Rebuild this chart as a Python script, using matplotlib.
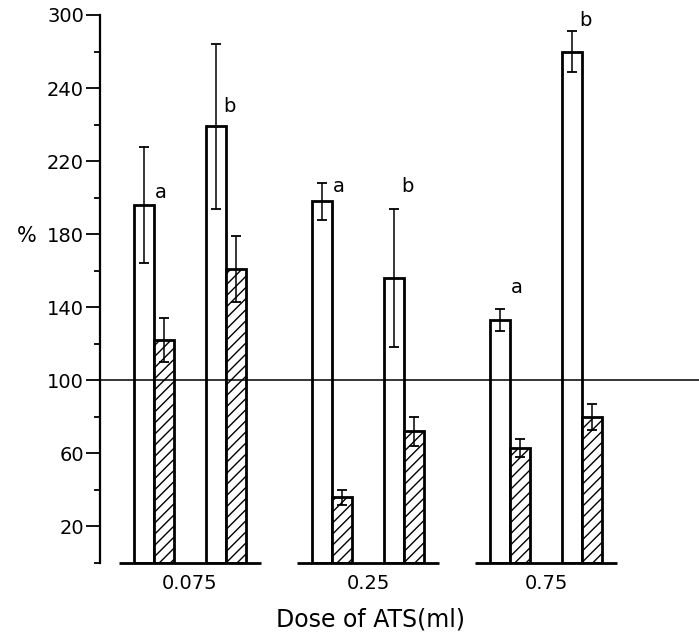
import matplotlib
matplotlib.use("Agg")
import matplotlib.pyplot as plt
import numpy as np

plt.rcParams['font.family'] = ['DejaVu Sans']
plt.rcParams['hatch.linewidth'] = 1.0

# ---- data ----
doses = ["0.075", "0.25", "0.75"]
# open bars (a and b conditions) and hatched bars, per dose
open_a = [196, 198, 133]
open_a_err = [32, 10, 6]
hatch_a = [122, 36, 63]
hatch_a_err = [12, 4, 5]
open_b = [239, 156, 280]
open_b_err = [45, 38, 11]
hatch_b = [161, 72, 80]
hatch_b_err = [18, 8, 7]
sig_letters_a = ["a", "a", "a"]
sig_letters_b = ["b", "b", "b"]
ytick_values = [20, 60, 100, 140, 180, 220, 260, 300]
ytick_labels = ["20", "60", "100", "140", "180", "220", "240", "300"]
minor_values = [0, 40, 80, 120, 160, 200, 240, 280]
reference_level = 100

fig = plt.figure(figsize=(6.99, 6.35), dpi=100)
ax = fig.add_axes([100 / 699, 72 / 635, 599 / 699, 548 / 635])

g = np.arange(len(doses))
pair_off = 0.2
w = 0.112

def draw_pair(center, ov, oe, hv, he):
    xo = center - w / 2
    xh = center + w / 2
    ax.bar(xo, ov, width=w, facecolor='white', edgecolor='black', linewidth=2.0, zorder=3)
    ax.bar(xh, hv, width=w, facecolor='white', edgecolor='black', linewidth=2.0,
           hatch='///', zorder=3)
    ax.errorbar(xo, ov, yerr=oe, fmt='none', ecolor='black', elinewidth=1.1,
                capsize=3.5, capthick=1.3, zorder=4)
    ax.errorbar(xh, hv, yerr=he, fmt='none', ecolor='black', elinewidth=1.1,
                capsize=3.5, capthick=1.3, zorder=4)
    return xo

xa = draw_pair(g - pair_off, open_a, open_a_err, hatch_a, hatch_a_err)
xb = draw_pair(g + pair_off, open_b, open_b_err, hatch_b, hatch_b_err)

# significance letters
label_offsets_a = [7, 8, 18]     # above bar top
label_offsets_b = [11, 50, 17]
for i in range(len(doses)):
    ax.text(xa[i] + 0.09, open_a[i] + label_offsets_a[i], sig_letters_a[i],
            fontsize=14, ha='center', va='center')
    ax.text(xb[i] + 0.075, open_b[i] + label_offsets_b[i], sig_letters_b[i],
            fontsize=14, ha='center', va='center')

# reference line (drawn across the bars)
ax.axhline(reference_level, color='black', linewidth=1.1, zorder=4.5, clip_on=False)

# baseline segments per group
for gi in g:
    ax.plot([gi - 0.4, gi + 0.4], [0, 0], color='black', linewidth=2.0,
            clip_on=False, zorder=5, solid_capstyle='butt')

ax.set_xlim(-90 / 178, -90 / 178 + 599 / 178)
ax.set_ylim(0, 300)

for s in ['top', 'right', 'bottom']:
    ax.spines[s].set_visible(False)
ax.spines['left'].set_linewidth(1.6)

ax.set_yticks(ytick_values)
ax.set_yticklabels(ytick_labels, fontsize=14)
ax.set_yticks(minor_values, minor=True)
ax.tick_params(axis='y', which='major', length=10, width=1.3, pad=1.5)
ax.tick_params(axis='y', which='minor', length=4, width=1.3)

ax.set_xticks(g)
ax.set_xticklabels(doses, fontsize=14)
ax.tick_params(axis='x', length=0, pad=8)

ax.set_xlabel("Dose of ATS(ml)", fontsize=17)
ax.xaxis.set_label_coords((370 - 100) / 599, (563 - 607) / 548)
ax.set_ylabel("%", fontsize=15, rotation=0, va='center', ha='center')
ax.yaxis.set_label_coords((27 - 100) / 599, (563 - 236) / 548)

fig.savefig("out.png", dpi=100)
